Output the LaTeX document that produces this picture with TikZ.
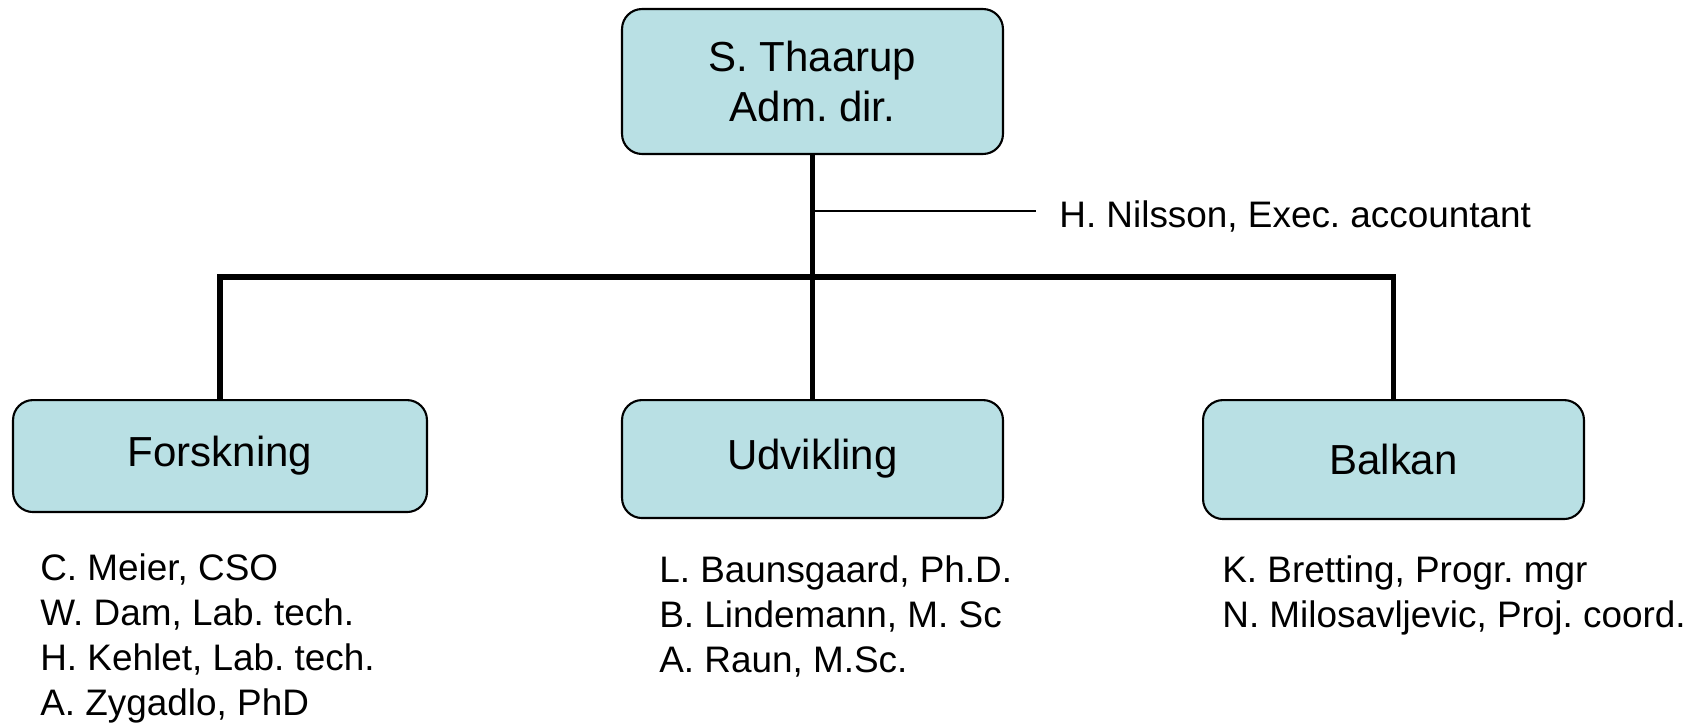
\documentclass[tikz,border=0pt]{standalone}
\usepackage{fontspec}
\setmainfont{Liberation Sans}
\usetikzlibrary{positioning}
\definecolor{boxblue}{RGB}{185,224,228}
\frenchspacing

\begin{document}
\begin{tikzpicture}[x=0.02cm,y=-0.02cm]
  \tikzset{unit/.style = {shape=rectangle, draw, rounded corners=0.4cm, line width=1.2pt, fill=boxblue, align=center, font=\fontsize{23.9pt}{29pt}\selectfont}} % boxes
  \tikzset{staff/.style = {align=left, inner sep=0pt, font=\fontsize{21pt}{25.6pt}\selectfont}}
  \tikzset{trunk/.style = {line width=2.9pt}}
  \useasboundingbox (0,0) rectangle (1699,724);

  % boxes
  \node[unit, minimum width=7.62cm, minimum height=2.9cm] (dir) at (812.5,81.5) {S. Thaarup\\Adm. dir.};
  \node[unit, anchor=north, minimum width=8.28cm, minimum height=2.24cm] (fors) at (220,399) {Forskning};
  \node[unit, anchor=north, minimum width=7.62cm, minimum height=2.36cm] (udv) at (812.5,399) {Udvikling};
  \node[unit, anchor=north, minimum width=7.62cm, minimum height=2.38cm] (balk) at (1393.5,399) {Balkan};

  % staff (base = last line)
  \node[staff, anchor=base west] (nil) at (1059,227) {H. Nilsson, Exec. accountant};
  \node[staff, anchor=base west] (forsstaff) at (40,715) {C. Meier, CSO\\W. Dam, Lab. tech.\\H. Kehlet, Lab. tech.\\A. Zygadlo, PhD};
  \node[staff, anchor=base west] (udvstaff) at (659,672) {L. Baunsgaard, Ph.D.\\B. Lindemann, M. Sc\\A. Raun, M.Sc.};
  \node[staff, anchor=base west] (balkstaff) at (1222,627) {K. Bretting, Progr. mgr\\N. Milosavljevic, Proj. coord.};

  % lines
  \coordinate (bus) at (812.5,277);
  \coordinate (nilend) at (1036,211);
  \draw[trunk] (dir.south) -- (udv.north);
  \draw[trunk] (fors.north) |- (bus) -| (balk.north);
  \draw[line width=1.1pt] (dir.south |- nilend) -- (nilend);

\end{tikzpicture}
\end{document}
